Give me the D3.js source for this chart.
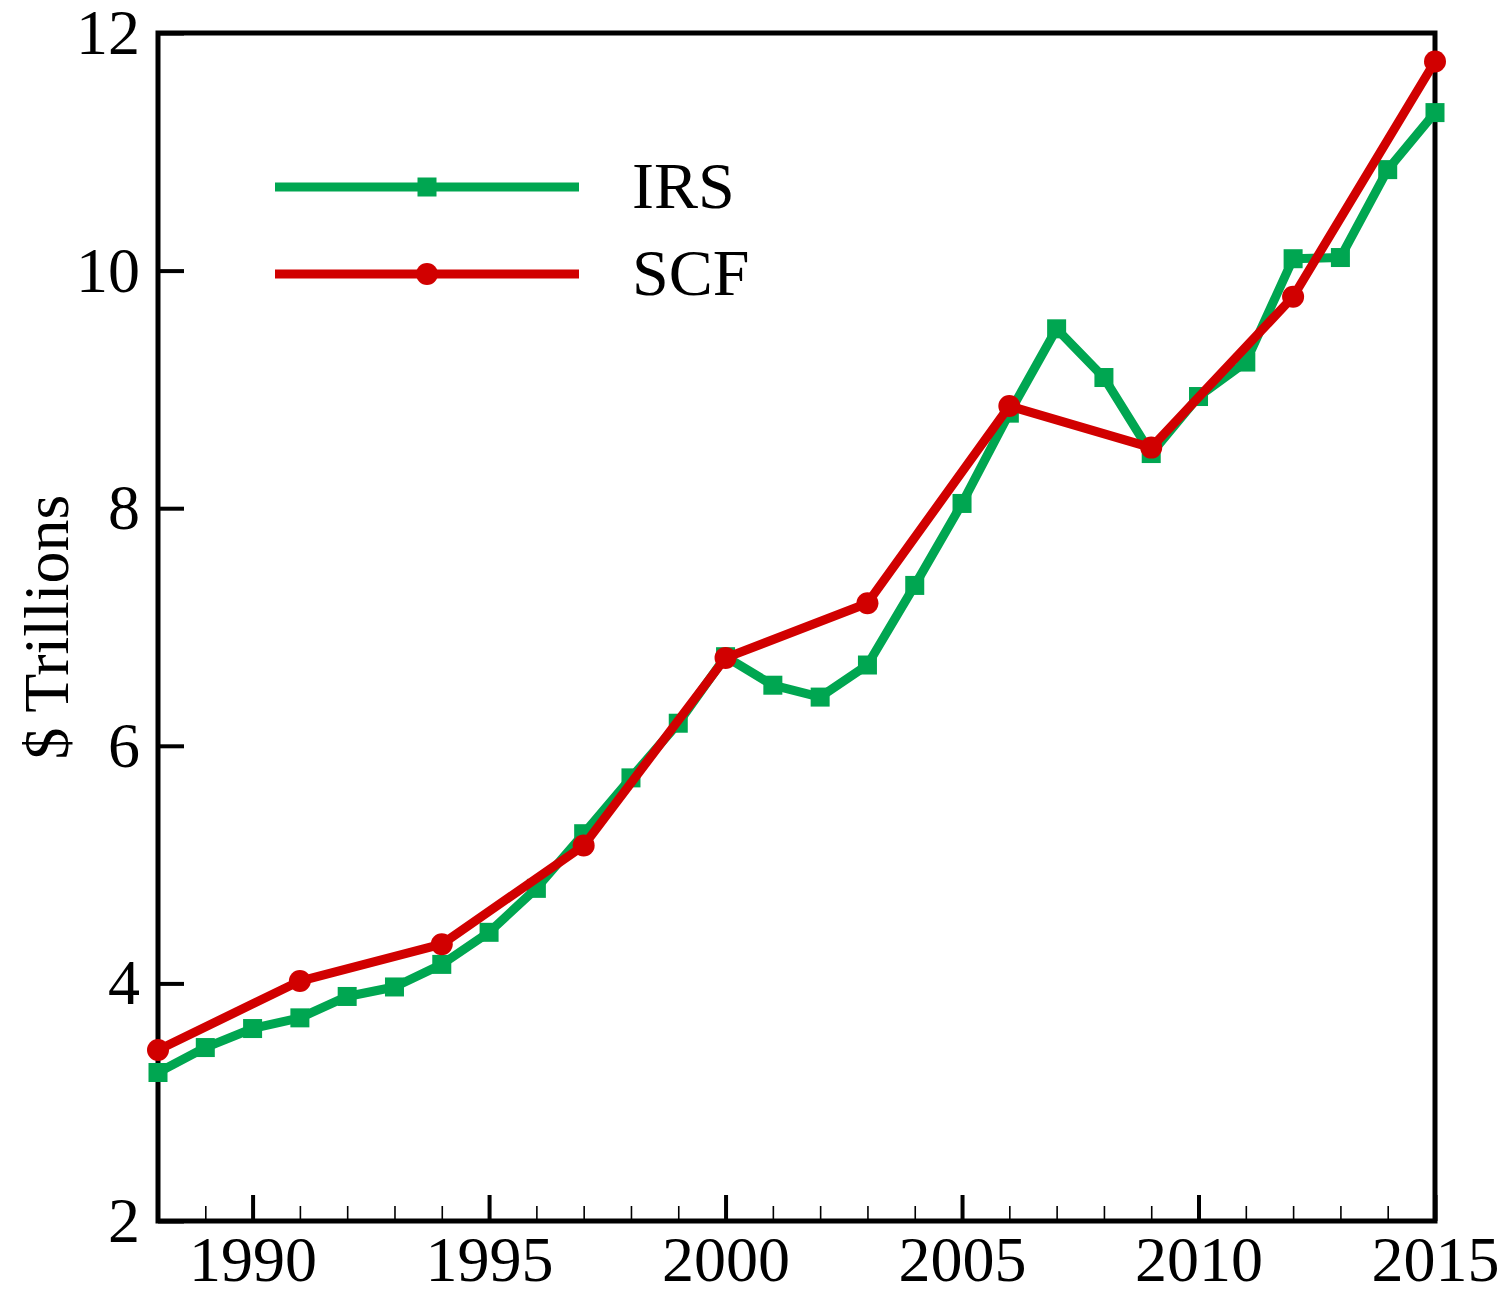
<!DOCTYPE html>
<html>
<head>
<meta charset="utf-8">
<script src="https://cdn.jsdelivr.net/npm/d3@7"></script>
<style>
  html, body { margin: 0; padding: 0; background: #fff; }
  svg { display: block; }
  text { font-family: "Liberation Serif", "DejaVu Serif", serif; fill: #000; }
</style>
</head>
<body>
<svg id="chart" width="1512" height="1289"></svg>
<script>
// ---- data ----
const irsYears = [1988,1989,1990,1991,1992,1993,1994,1995,1996,1997,1998,1999,2000,2001,2002,2003,2004,2005,2006,2007,2008,2009,2010,2011,2012,2013,2014,2015];
const irsValues = [3.25,3.46,3.62,3.71,3.89,3.97,4.16,4.43,4.80,5.26,5.73,6.19,6.75,6.51,6.41,6.68,7.35,8.04,8.80,9.51,9.10,8.46,8.94,9.23,10.10,10.11,10.85,11.33];
const scfYears = [1988,1991,1994,1997,2000,2003,2006,2009,2012,2015];
const scfValues = [3.44,4.02,4.33,5.16,6.74,7.20,8.86,8.51,9.78,11.76];
const xMajorTicks = [1990,1995,2000,2005,2010,2015];
const xMinorTicks = d3.range(1988, 2016);
const yTicks = [2,4,6,8,10,12];
const seriesNames = ["IRS","SCF"];
const seriesColors = ["#00A651","#D10000"];
const yTitle = "$ Trillions";

// ---- layout ----
const svg = d3.select("#chart");
const L = 158, R = 1435, T = 33, B = 1221;
const x = d3.scaleLinear().domain([1988, 2015]).range([L, R]);
const y = d3.scaleLinear().domain([2, 12]).range([B, T]);

// minor x ticks
svg.append("g").attr("transform", `translate(0,${B})`)
  .call(d3.axisBottom(x).tickValues(xMinorTicks).tickSize(-15).tickFormat(""))
  .call(g => g.select(".domain").remove())
  .call(g => g.selectAll("line").attr("stroke", "#000").attr("stroke-width", 1.6));

// major x ticks
svg.append("g").attr("transform", `translate(0,${B})`)
  .call(d3.axisBottom(x).tickValues(xMajorTicks).tickSize(-26).tickPadding(15).tickFormat(d3.format("d")))
  .call(g => g.select(".domain").remove())
  .call(g => g.selectAll("line").attr("stroke", "#000").attr("stroke-width", 4))
  .call(g => g.selectAll("text").attr("font-size", 64).attr("font-family", "Liberation Serif").attr("fill", "#000"));

// y ticks
svg.append("g").attr("transform", `translate(${L},0)`)
  .call(d3.axisLeft(y).tickValues(yTicks).tickSize(-26).tickPadding(18).tickFormat(d3.format("d")))
  .call(g => g.select(".domain").remove())
  .call(g => g.selectAll("line").attr("stroke", "#000").attr("stroke-width", 4))
  .call(g => g.selectAll("text").attr("font-size", 64).attr("font-family", "Liberation Serif").attr("fill", "#000"));

// frame
svg.append("rect")
  .attr("x", L).attr("y", T).attr("width", R - L).attr("height", B - T)
  .attr("fill", "none").attr("stroke", "#000").attr("stroke-width", 5);

// y title
svg.append("text")
  .attr("transform", `translate(68,627) rotate(-90)`)
  .attr("text-anchor", "middle")
  .attr("font-size", 64)
  .text(yTitle);

const line = d3.line().x(d => x(d[0])).y(d => y(d[1]));
const irs = irsYears.map((yr, i) => [yr, irsValues[i]]);
const scf = scfYears.map((yr, i) => [yr, scfValues[i]]);

// IRS
svg.append("path").datum(irs).attr("d", line)
  .attr("fill", "none").attr("stroke", seriesColors[0]).attr("stroke-width", 9).attr("stroke-linejoin", "round");
svg.append("g").selectAll("rect").data(irs).join("rect")
  .attr("x", d => x(d[0]) - 9.5).attr("y", d => y(d[1]) - 9.5)
  .attr("width", 19).attr("height", 19).attr("fill", seriesColors[0]);

// SCF
svg.append("path").datum(scf).attr("d", line)
  .attr("fill", "none").attr("stroke", seriesColors[1]).attr("stroke-width", 9).attr("stroke-linejoin", "round");
svg.append("g").selectAll("circle").data(scf).join("circle")
  .attr("cx", d => x(d[0])).attr("cy", d => y(d[1])).attr("r", 11).attr("fill", seriesColors[1]);

// legend
const legY = [187, 274];
const leg = svg.append("g");
seriesNames.forEach((name, i) => {
  leg.append("line").attr("x1", 275).attr("x2", 579).attr("y1", legY[i]).attr("y2", legY[i])
    .attr("stroke", seriesColors[i]).attr("stroke-width", 9);
  if (i === 0) {
    leg.append("rect").attr("x", 427 - 9.5).attr("y", legY[i] - 9.5).attr("width", 19).attr("height", 19).attr("fill", seriesColors[i]);
  } else {
    leg.append("circle").attr("cx", 427).attr("cy", legY[i]).attr("r", 11).attr("fill", seriesColors[i]);
  }
  leg.append("text").attr("x", 632).attr("y", legY[i] + 21).attr("font-size", 66).text(name);
});
</script>
</body>
</html>
